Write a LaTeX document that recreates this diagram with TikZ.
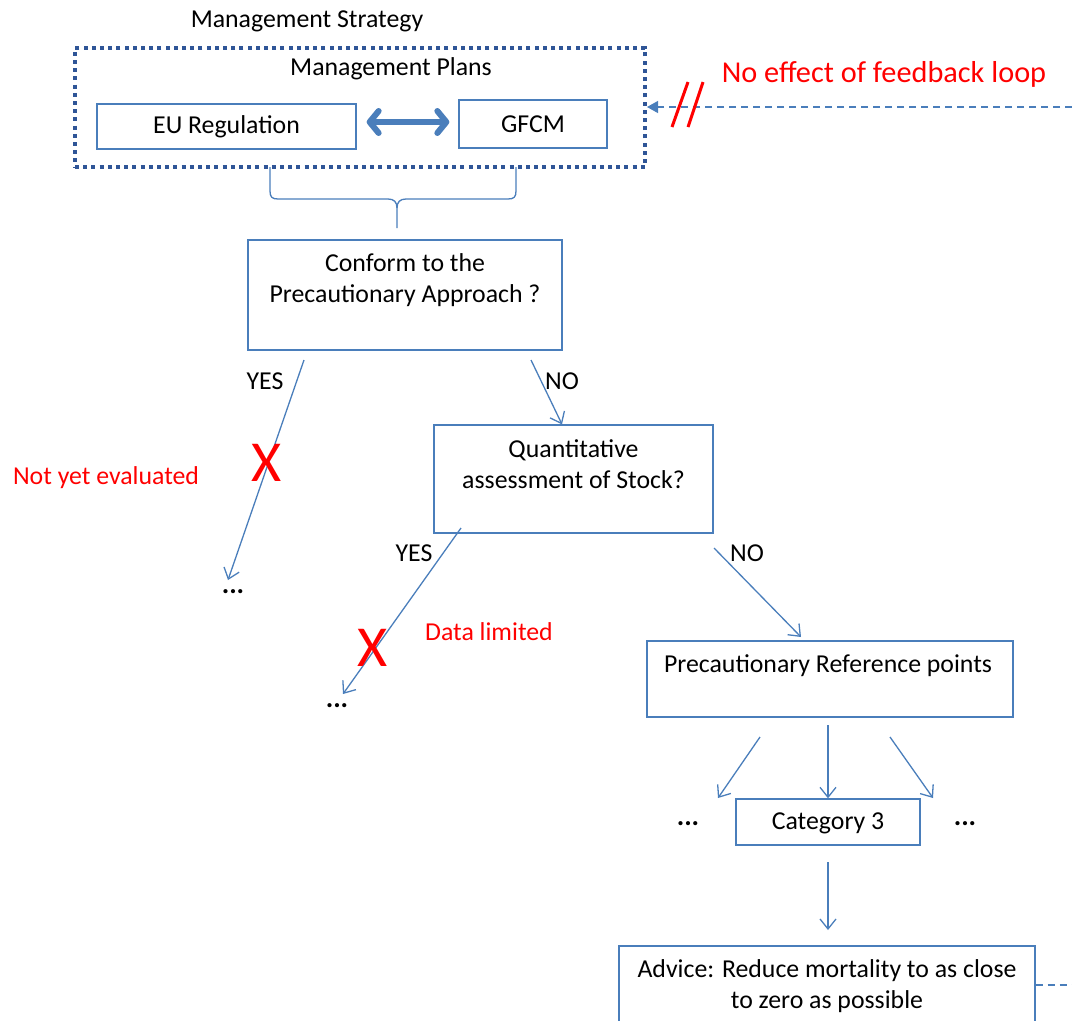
\documentclass[tikz,border=0pt]{standalone}
\usepackage{fontspec}
\setmainfont{Carlito}
\usetikzlibrary{arrows.meta,calc}
\definecolor{lblue}{HTML}{4A7EBB}
\definecolor{dblue}{HTML}{2F5597}
\definecolor{myred}{HTML}{FF0000}
\tikzset{
  txt/.style={font=\fontsize{25.8}{30.5}\selectfont, inner sep=0pt, align=center},
  redtxt/.style={txt, text=myred},
  boxn/.style={draw=lblue, line width=1.3pt, fill=white, inner sep=0pt},
  conn/.style={draw=lblue, line width=1.3pt, -{Straight Barb[length=10pt,width=16pt,line width=1.3pt]}},
  redx/.style={text=myred, font=\fontsize{58}{58}\selectfont, inner sep=0pt},
  dots/.style={font=\fontsize{28}{28}\selectfont\bfseries, inner sep=0pt},
  dblarrow/.style={lblue, line width=6pt, line cap=round, {Straight Barb[length=9pt,width=22pt,round]}-{Straight Barb[length=9pt,width=22pt,round]}},
}
\begin{document}
\begin{tikzpicture}[x=1pt,y=-1pt]
\useasboundingbox (0,0) rectangle (1072,1021);
% top group
\node[txt] (strat) at (307,21) {Management Strategy};
\node[draw=dblue, line width=4pt, dash pattern=on 4pt off 4.2pt, minimum width=570pt, minimum height=119pt, inner sep=0pt] (plans) at (360,107.5) {};
\node[txt] (planstxt) at (391,69) {Management Plans};
\node[boxn, minimum width=259pt, minimum height=45pt] (eu) at (226.5,126.5) {};
\node[txt] (eutxt) at (226.5,127) {EU Regulation};
\node[boxn, minimum width=148pt, minimum height=48pt] (gfcm) at (533,124) {};
\node[txt] (gfcmtxt) at (533,124) {GFCM};
\draw[dblarrow] ([xshift=10pt]eu.east |- 0,122) -- ([xshift=-9pt]gfcm.west |- 0,122);
% brace
\coordinate (bl) at (270,167);
\coordinate (br) at (516,167);
\coordinate (bt) at (397,228);
\draw[lblue, line width=1.3pt] (bl) -- (270,191) .. controls (270,197) and (272,199) .. (278,199) -- (388,199) .. controls (394,199) and (397,202) .. (397,208) -- (bt);
\draw[lblue, line width=1.3pt] (br) -- (516,191) .. controls (516,197) and (514,199) .. (508,199) -- (406,199) .. controls (400,199) and (397,202) .. (397,208);
% feedback loop
\coordinate (fbstart) at (1072,107);
\draw[lblue, line width=1.2pt, dash pattern=on 7pt off 5pt, -{Triangle[length=11pt,width=12pt]}] (fbstart) -- (plans.east |- fbstart);
\coordinate (s1a) at (672,127); \coordinate (s1b) at (688,82);
\coordinate (s2a) at (688,127); \coordinate (s2b) at (703,82);
\draw[myred, line width=3pt] (s1a) -- (s1b);
\draw[myred, line width=3pt] (s2a) -- (s2b);
\node[text=myred, font=\fontsize{30.3}{30}\selectfont, inner sep=0pt] (noeff) at (884,74) {No effect of feedback loop};
% conform
\node[boxn, minimum width=314pt, minimum height=110pt] (conform) at (405,295) {};
\node[txt] (conftxt) at (405,280) {Conform to the\\Precautionary Approach ?};
% YES left
\coordinate (y1s) at (304,360);
\node[dots] (dots1) at (233,592) {...};
\coordinate (y1e) at (228,580);
\draw[conn] (y1s) -- (y1e);
\node[txt] (yes1) at (265,381) {YES};
\node[redx] (x1) at (267,463) {X};
\node[redtxt] (nye) at (106,478) {Not yet evaluated};
% NO to quant
\node[boxn, minimum width=279pt, minimum height=108pt] (quant) at (573.5,479) {};
\node[txt] (quanttxt) at (573.5,464) {Quantitative\\assessment of Stock?};
\coordinate (n1s) at (531,360);
\draw[conn] (n1s) -- (quant.north -| 562,0);
\node[txt] (no1) at (562,381) {NO};
% YES from quant
\coordinate (y2s) at (461,528);
\coordinate (y2e) at (343,694);
\draw[conn] (y2s) -- (y2e);
\node[dots] (dots2) at (337,706) {...};
\node[txt] (yes2) at (414,553) {YES};
\node[redx] (x2) at (373,648) {X};
\node[redtxt] (dl) at (489,632) {Data limited};
% NO from quant
\node[boxn, minimum width=366pt, minimum height=76pt] (prp) at (830,679) {};
\node[txt] (prptxt) at (828,666) {Precautionary Reference points};
\coordinate (n2s) at (714,548);
\draw[conn] (n2s) -- (801,637);
\node[txt] (no2) at (747,553) {NO};
% categories
\node[boxn, minimum width=184pt, minimum height=46pt] (cat) at (828,822) {};
\node[txt] (cattxt) at (828,823) {Category 3};
\node[dots] (dots3) at (688,824) {...};
\node[dots] (dots4) at (965,824) {...};
\coordinate (c1s) at (760,737); \coordinate (c1e) at (718,798);
\coordinate (c3s) at (890,737); \coordinate (c3e) at (933,798);
\draw[conn] (c1s) -- (c1e);
\draw[conn] (828,725) -- (cat.north);
\draw[conn] (c3s) -- (c3e);
% advice
\node[boxn, minimum width=416pt, minimum height=90pt] (adv) at (827,991) {};
\node[txt] (advtxt) at (827,986) {Advice: Reduce mortality to as close\\to zero as possible};
\coordinate (cadv1) at (828,862);
\coordinate (cadv2) at (828,930);
\draw[conn] (cadv1) -- (cadv2);
\coordinate (advend) at (1072,985);
\draw[lblue, line width=1.2pt, dash pattern=on 7pt off 5pt] (adv.east |- advend) -- (advend);
\end{tikzpicture}
\end{document}
